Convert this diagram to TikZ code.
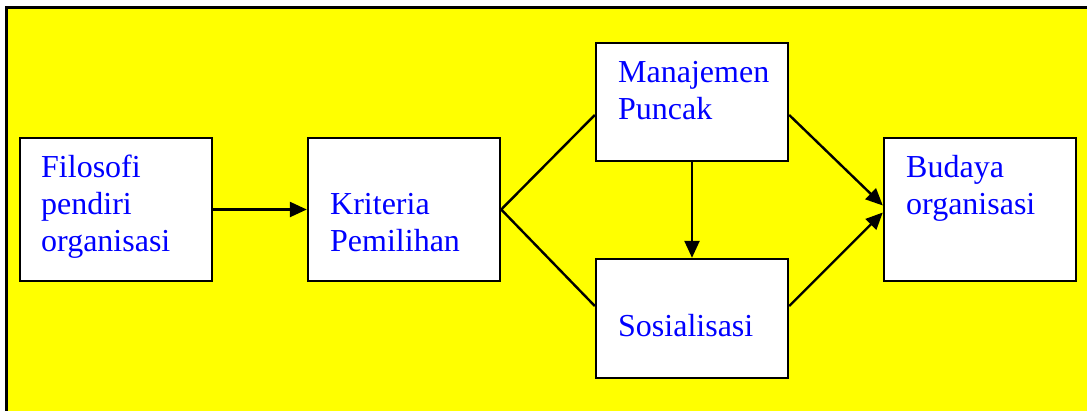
\documentclass[tikz,border=0pt]{standalone}
\usepackage{fontspec}
\setmainfont{Liberation Serif}
\usetikzlibrary{arrows.meta}
\definecolor{sunny}{RGB}{255,255,0}
\definecolor{inkblue}{RGB}{0,0,255}
\tikzset{
  >={Triangle[length=17pt,width=15pt]},
  panel/.style={draw=black,fill=white,line width=2.4pt,inner sep=0pt,
    minimum width=192pt,minimum height=#1},
  panel/.default=143pt,
  caption/.style={anchor=base west,inner sep=0pt,align=left,text=inkblue,
    font=\fontsize{32}{37}\selectfont},
  link/.style={line width=2.4pt,draw=black},
}
\begin{document}
\begin{tikzpicture}[x=1pt,y=-1pt]
  \useasboundingbox (0,0) rectangle (1087,410);
  \fill[white] (0,0) rectangle (1087,410);
  \draw[line width=3pt,fill=sunny] (6.3,7.7) rectangle (1100,420);

  % boxes
  \node[panel] (filosofi) at (116,209.5) {};
  \node[panel] (kriteria) at (404,209.5) {};
  \node[panel=118pt] (manajemen) at (692,102) {};
  \node[panel=119pt] (sosialisasi) at (692,318.5) {};
  \node[panel] (budaya) at (980,209.5) {};

  % texts (placed by the baseline of their last line)
  \node[caption] (filosofi-txt) at (41,251) {Filosofi\\pendiri\\organisasi};
  \node[caption] (kriteria-txt) at (330,251) {Kriteria\\Pemilihan};
  \node[caption] (manajemen-txt) at (618,119) {Manajemen\\Puncak};
  \node[caption] (sosialisasi-txt) at (618,336) {Sosialisasi};
  \node[caption] (budaya-txt) at (906,214) {Budaya\\organisasi};

  % connectors
  \draw[link,->] (filosofi.east) -- (kriteria.west);
  \draw[link] ([yshift=-13pt]manajemen.west) -- (kriteria.east) -- ([yshift=12.5pt]sosialisasi.west);
  \draw[link,->] (manajemen) -- (sosialisasi);
  \draw[link,->] ([yshift=-13pt]manajemen.east) -- ([yshift=4pt]budaya.west);
  \draw[link,->] ([yshift=12.5pt]sosialisasi.east) -- ([yshift=-3pt]budaya.west);
\end{tikzpicture}
\end{document}
